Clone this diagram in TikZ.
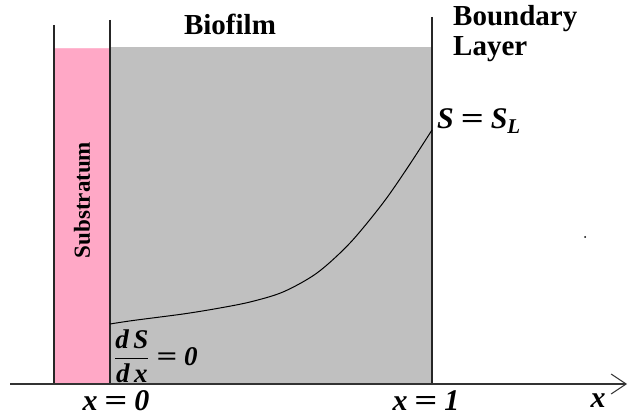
\documentclass[tikz,border=0pt]{standalone}
\usepackage{amsmath}
\usepackage{fontspec}
\setmainfont{Liberation Serif}
\usetikzlibrary{positioning,arrows.meta}
\newcommand{\bfit}[1]{\text{\bfseries\itshape #1}}
\newcommand{\beq}{\mathrel{\text{\bfseries\scalebox{1.35}[1]{=}}}}
\definecolor{substr}{HTML}{FFA8C6}
\definecolor{film}{HTML}{C0C0C0}

\begin{document}
\begin{tikzpicture}[x=1pt, y=-1pt,
  wall/.style={draw=black!85, line width=1.6pt},
  lbl/.style={inner sep=0pt, font=\fontsize{29}{30}\selectfont\bfseries},
  mlbl/.style={inner sep=0pt, font=\fontsize{30}{32}\selectfont},
  axis/.style={line width=1.4pt, draw=black!80, -{Straight Barb[length=15pt, width=20pt, line width=1pt]}}
]
  \useasboundingbox (0,0) rectangle (630,417);

  % Schichten
  \fill[substr] (54,49) rectangle (110,384);
  \draw[substr!80, line width=1pt] (54,49) -- (120,49);
  \fill[film] (110,47) rectangle (432,384);

  % Waende
  \coordinate (w0top) at (54,25);
  \coordinate (w0bot) at (54,384);
  \coordinate (w1top) at (110,20);
  \coordinate (w1bot) at (110,384);
  \coordinate (w2top) at (432,17);
  \coordinate (w2bot) at (432,384);
  \draw[wall] (w0top) -- (w0bot);
  \draw[wall] (w1top) -- (w1bot);
  \draw[wall] (w2top) -- (w2bot);

  % x-Achse
  \coordinate (ax0) at (10,384);
  \coordinate (ax1) at (627,384);
  \draw[axis] (ax0) -- (ax1);

  % Konzentrationsprofil
  \coordinate (s0) at (110,324);
  \coordinate (s1) at (432,130);
  \draw[line width=1pt] plot[smooth, tension=0.5] coordinates
    {(s0) (133,320.5) (183,314) (217,308.5) (250,302) (283,292) (317,273)
     (350,243) (383,203) (408,167) (s1)};

  % Beschriftungen
  \node[lbl] (biofilm) at (230,24) {Biofilm};
  \node[lbl, align=left, anchor=north west] (boundary) at (453,5) {Boundary\\Layer};
  \node[lbl, font=\fontsize{23}{26}\selectfont\bfseries, rotate=90] (substratum) at (82,200) {Substratum};
  \node[mlbl, anchor=west] (sl) at (437,121) {$\bfit{S} \beq \bfit{S}_{\bfit{L}}$};
  \node[mlbl, font=\fontsize{27}{30}\selectfont, anchor=west] (dsdx) at (114,356)
    {$\dfrac{\bfit{d\,S}}{\bfit{d\,x}} \beq \bfit{0}$};
  \node[mlbl] (xnull) at (116,401) {$\bfit{x} \beq \bfit{0}$};
  \node[mlbl] (xeins) at (426,401) {$\bfit{x} \beq \bfit{1}$};
  \node[mlbl] (xvar) at (598,401) {$\bfit{x}$};

  % Punkt
  \fill (585,237) circle (1pt);
\end{tikzpicture}
\end{document}
